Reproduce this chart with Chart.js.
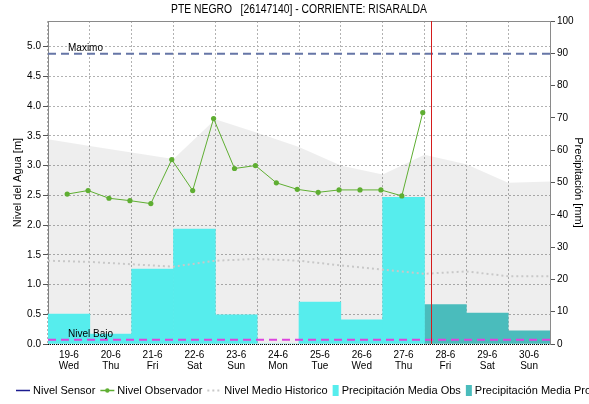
<!DOCTYPE html>
<html>
<head>
<meta charset="utf-8">
<script src="https://cdn.jsdelivr.net/npm/chart.js@4.4.1/dist/chart.umd.min.js"></script>
<style>
  html, body { margin: 0; padding: 0; background: #ffffff; }
  #wrap { width: 589px; height: 404px; }
</style>
</head>
<body>
<div id="wrap"><canvas id="chart" width="589" height="404"></canvas></div>
<script>
// Station and period
const stationTitle = 'PTE NEGRO   [26147140] - CORRIENTE: RISARALDA';
const days = ['19-6', '20-6', '21-6', '22-6', '23-6', '24-6', '25-6', '26-6', '27-6', '28-6', '29-6', '30-6'];
const weekdays = ['Wed', 'Thu', 'Fri', 'Sat', 'Sun', 'Mon', 'Tue', 'Wed', 'Thu', 'Fri', 'Sat', 'Sun'];

// Daily precipitation [mm]: observed, then forecast
const precipObs = [9.3, 3.1, 23.2, 35.6, 9.0, 0, 13.0, 7.5, 45.4, null, null, null];
const precipPro = [null, null, null, null, null, null, null, null, null, 12.2, 9.6, 4.1];

// Observer readings [m], twice a day
const obsTimes = [
  '19-6 11:00', '19-6 23:00', '20-6 11:00', '20-6 23:00', '21-6 11:00', '21-6 23:00',
  '22-6 11:00', '22-6 23:00', '23-6 11:00', '23-6 23:00', '24-6 11:00', '24-6 23:00',
  '25-6 11:00', '25-6 23:00', '26-6 11:00', '26-6 23:00', '27-6 11:00', '27-6 23:00'
];
const nivelObservador = [2.52, 2.58, 2.45, 2.41, 2.36, 3.10, 2.58, 3.79, 2.95, 3.00, 2.71, 2.60,
                         2.55, 2.59, 2.59, 2.59, 2.49, 3.89];

// Historical levels [m] at each midnight, 19-6 00:00 through 01-7 00:00
const nivelMaxHistorico = [3.44, 3.33, 3.22, 3.11, 3.78, 3.55, 3.31, 3.00, 2.85, 3.18, 3.02, 2.71, 2.73];
const nivelMedioHistorico = [1.40, 1.38, 1.34, 1.30, 1.40, 1.43, 1.40, 1.32, 1.25, 1.18, 1.22, 1.14, 1.14];

// Alert thresholds [m] and current time
const nivelMaximo = 4.88;
const nivelBajo = 0.07;
const horaActual = '28-6 04:00';

// Axis ranges
const nivelTicks = ['0.0', '0.5', '1.0', '1.5', '2.0', '2.5', '3.0', '3.5', '4.0', '4.5', '5.0'];
const nivelMaxAxis = 5.43;
const precipMaxAxis = 100;

const FONT = '"Liberation Sans", Arial, sans-serif';

function dayPos(stamp) {
  const [d, hm] = stamp.split(' ');
  const [h, m] = hm.split(':').map(Number);
  return days.indexOf(d) + (h + m / 60) / 24;
}

const obsPoints = obsTimes.map((t, i) => ({ x: dayPos(t), y: nivelObservador[i] }));
const maxHistPoints = nivelMaxHistorico.map((v, i) => ({ x: i, y: v }));
const medioPoints = nivelMedioHistorico.map((v, i) => ({ x: i, y: v }));
const obsBars = precipObs.map((v, i) => ({ x: i + 0.5, y: v }));
const proBars = precipPro.map((v, i) => ({ x: i + 0.5, y: v }));
const span = days.length;

const COLORS = {
  sensor: '#1b1b8f',
  observador: '#5fae32',
  medio: '#c8c8c8',
  obs: '#56eded',
  pro: '#4abcbc',
  maximo: '#6676a6',
  bajo: '#dd44dd',
  ahora: '#d41c1c',
  band: 'rgba(0,0,0,0.065)',
  grid: '#b2b2b2'
};

const overlay = {
  id: 'overlay',
  afterDatasetsDraw(chart) {
    const { ctx, chartArea: a, scales } = chart;
    ctx.save();
    // frame: solid top, dotted base
    ctx.strokeStyle = '#8a8a8a';
    ctx.lineWidth = 1;
    ctx.beginPath();
    ctx.moveTo(a.left, a.top + 0.5);
    ctx.lineTo(a.right, a.top + 0.5);
    ctx.stroke();
    ctx.strokeStyle = '#000';
    ctx.setLineDash([1, 1]);
    ctx.beginPath();
    ctx.moveTo(a.left, a.bottom + 0.5);
    ctx.lineTo(a.right, a.bottom + 0.5);
    ctx.stroke();
    ctx.setLineDash([]);
    // current time marker
    const xa = Math.round(scales.x.getPixelForValue(dayPos(horaActual)));
    ctx.fillStyle = COLORS.ahora;
    ctx.fillRect(xa, a.top, 1, a.bottom - a.top);
    // threshold labels
    ctx.fillStyle = '#000';
    ctx.font = '10px ' + FONT;
    ctx.textAlign = 'left';
    ctx.textBaseline = 'alphabetic';
    ctx.fillText('Maximo', a.left + 20, scales.y.getPixelForValue(nivelMaximo) - 3);
    ctx.fillText('Nivel Bajo', a.left + 20, scales.y.getPixelForValue(nivelBajo) - 3);
    ctx.restore();
  },
  afterDraw(chart) {
    const { ctx, chartArea: a } = chart;
    ctx.save();
    ctx.fillStyle = '#000';
    // title
    ctx.font = '12px ' + FONT;
    ctx.textAlign = 'center';
    ctx.textBaseline = 'middle';
    ctx.fillText(stationTitle, (a.left + a.right) / 2, 10, 256);
    // axis titles
    ctx.font = '11px ' + FONT;
    const cy = (a.top + a.bottom) / 2;
    ctx.save();
    ctx.translate(18, cy);
    ctx.rotate(-Math.PI / 2);
    ctx.fillText('Nivel del Agua [m]', 0, 0);
    ctx.restore();
    ctx.save();
    ctx.translate(578, cy);
    ctx.rotate(Math.PI / 2);
    ctx.fillText('Precipitación [mm]', 0, 0);
    ctx.restore();
    // legend
    let x = 16;
    const y = 390;
    ctx.textAlign = 'left';
    chart.data.datasets.forEach(ds => {
      if (!ds.legendKind) return;
      const col = ds.legendColor;
      if (ds.legendKind === 'box') {
        ctx.fillStyle = col;
        ctx.fillRect(x, y - 5, 6, 11);
        x += 9;
      } else {
        ctx.strokeStyle = col;
        ctx.lineWidth = ds.legendKind === 'dots' ? 2 : 1.5;
        ctx.setLineDash(ds.legendKind === 'dots' ? [2, 3] : []);
        ctx.beginPath();
        ctx.moveTo(x, y + 0.5);
        ctx.lineTo(x + 14, y + 0.5);
        ctx.stroke();
        ctx.setLineDash([]);
        if (ds.legendKind === 'point') {
          ctx.fillStyle = col;
          ctx.beginPath();
          ctx.arc(x + 7, y + 0.5, 2.2, 0, Math.PI * 2);
          ctx.fill();
        }
        x += 17;
      }
      ctx.fillStyle = '#000';
      ctx.fillText(ds.label, x, y + 1);
      x += ctx.measureText(ds.label).width + 5;
    });
    ctx.restore();
  }
};

new Chart(document.getElementById('chart'), {
  type: 'bar',
  data: {
    datasets: [
      {
        type: 'line', label: 'Rango Historico', data: maxHistPoints, yAxisID: 'y',
        fill: 'origin', backgroundColor: COLORS.band, borderWidth: 0, pointRadius: 0, order: 6
      },
      {
        type: 'line', label: 'Nivel Sensor', data: [], yAxisID: 'y',
        borderColor: COLORS.sensor, borderWidth: 1.5, pointRadius: 0, order: 2,
        legendKind: 'line', legendColor: COLORS.sensor
      },
      {
        type: 'line', label: 'Nivel Observador', data: obsPoints, yAxisID: 'y',
        borderColor: COLORS.observador, borderWidth: 1, pointRadius: 2.6, pointBorderWidth: 0,
        pointBackgroundColor: COLORS.observador, order: 1,
        legendKind: 'point', legendColor: COLORS.observador
      },
      {
        type: 'line', label: 'Nivel Medio Historico', data: medioPoints, yAxisID: 'y',
        borderColor: COLORS.medio, borderWidth: 2, borderDash: [2, 3], pointRadius: 0, order: 4,
        legendKind: 'dots', legendColor: COLORS.medio
      },
      {
        type: 'bar', label: 'Precipitación Media Obs', data: obsBars, yAxisID: 'y1',
        backgroundColor: COLORS.obs, borderWidth: 0, barPercentage: 1, categoryPercentage: 1,
        grouped: false, order: 5, legendKind: 'box', legendColor: COLORS.obs
      },
      {
        type: 'bar', label: 'Precipitación Media Pro', data: proBars, yAxisID: 'y1',
        backgroundColor: COLORS.pro, borderWidth: 0, barPercentage: 1, categoryPercentage: 1,
        grouped: false, order: 5, legendKind: 'box', legendColor: COLORS.pro
      },
      {
        type: 'line', label: 'Maximo', data: [{ x: 0, y: nivelMaximo }, { x: span, y: nivelMaximo }],
        yAxisID: 'y', borderColor: COLORS.maximo, borderWidth: 2, borderDash: [8, 5],
        pointRadius: 0, order: 3
      },
      {
        type: 'line', label: 'Nivel Bajo', data: [{ x: 0, y: nivelBajo }, { x: span, y: nivelBajo }],
        yAxisID: 'y', borderColor: COLORS.bajo, borderWidth: 2, borderDash: [8, 5],
        pointRadius: 0, order: 3
      }
    ]
  },
  options: {
    responsive: false,
    animation: false,
    devicePixelRatio: 1,
    layout: { padding: { top: 21, left: 0, right: 0, bottom: 0 } },
    plugins: { legend: { display: false }, title: { display: false }, tooltip: { enabled: false } },
    scales: {
      x: {
        type: 'linear', min: 0, max: span, offset: false,
        afterBuildTicks: s => { s.ticks = days.map((d, i) => ({ value: i + 0.5 })); },
        afterFit: s => { s.height = 60; },
        ticks: {
          autoSkip: false, maxRotation: 0, padding: 5, color: '#000',
          font: { family: FONT, size: 10, lineHeight: 1.15 },
          callback: (v, i) => [days[i], weekdays[i]]
        },
        grid: { color: COLORS.grid, drawTicks: false },
        border: { display: false, dash: [2, 2] }
      },
      y: {
        position: 'left', min: 0, max: nivelMaxAxis,
        afterBuildTicks: s => { s.ticks = nivelTicks.map(t => ({ value: parseFloat(t) })); },
        afterFit: s => { s.width = 48; },
        ticks: {
          padding: 2, color: '#000', font: { family: FONT, size: 10 },
          callback: (v, i) => nivelTicks[i]
        },
        grid: { color: COLORS.grid, tickColor: '#555', tickLength: 5 },
        border: { color: '#8a8a8a', dash: [2, 2] }
      },
      y1: {
        position: 'right', min: 0, max: precipMaxAxis,
        afterFit: s => { s.width = 39; },
        ticks: { stepSize: 10, padding: 2, color: '#000', font: { family: FONT, size: 10 } },
        grid: { drawOnChartArea: false, tickColor: '#555', tickLength: 5 },
        border: { color: '#8a8a8a' }
      }
    }
  },
  plugins: [overlay]
});
</script>
</body>
</html>
